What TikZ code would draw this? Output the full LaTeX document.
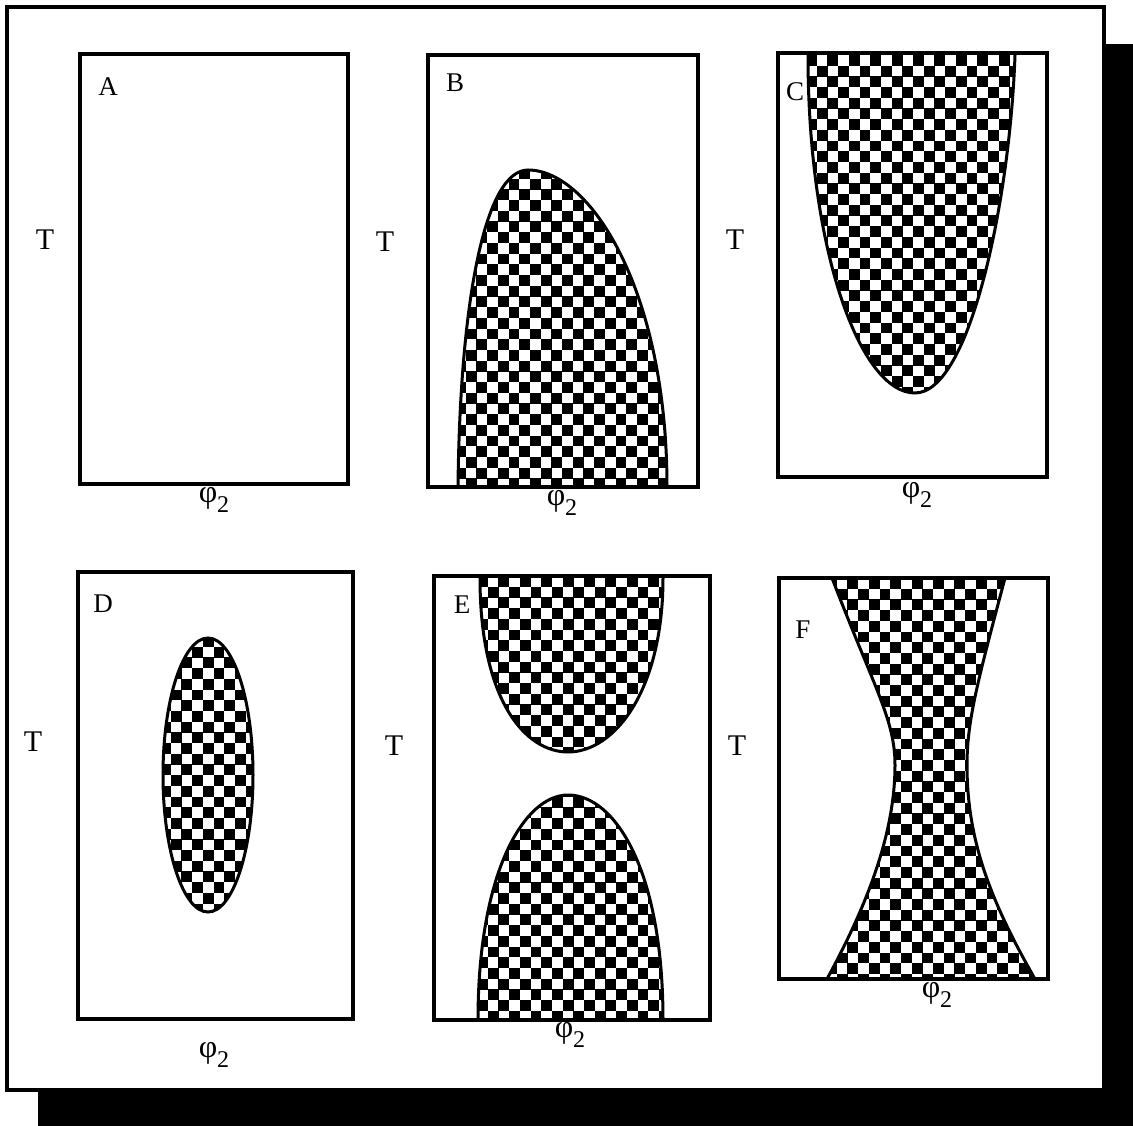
\documentclass[tikz,border=0pt]{standalone}
\usepackage{fontspec}
\setmainfont{Liberation Serif}
\newcommand{\checkfill}[4]{%
  \foreach \ci in {0,...,#3}{%
    \foreach \cj in {0,...,#4}{%
      \fill ({#1+21.4*\ci},{#2+21.4*\cj}) rectangle +(10.9,10.9);
      \fill ({#1+21.4*\ci+10.7},{#2+21.4*\cj+10.7}) rectangle +(10.9,10.9);
    }}}
\newcommand{\phitwo}{φ\raisebox{-0.32em}{\fontsize{24}{28}\selectfont 2}}
\tikzset{
  panel/.style={line width=3.4pt},
  blob/.style={line width=3pt},
  letter/.style={font=\fontsize{27}{30}\selectfont, inner sep=0pt},
  tlab/.style={font=\fontsize{30}{34}\selectfont, inner sep=0pt},
  philab/.style={font=\fontsize{32}{36}\selectfont, inner sep=0pt}
}
\begin{document}
\begin{tikzpicture}[x=1pt,y=-1pt]
\useasboundingbox (0,0) rectangle (1133,1126);
% shadow
\fill (1104,44) rectangle (1133,1126);
\fill (38,1090) rectangle (1133,1126);
% outer frame
\draw[panel,fill=white] (7,7) rectangle (1104,1090);

% ---------- Panel A
\draw[panel] (80,54) rectangle (348,484);
\node[letter] (la) at (108,87) {A};
\node[tlab] (ta) at (45,240) {T};
\node[philab] (pa) at (214,500) {\phitwo};

% ---------- Panel B
\begin{scope}
\clip (458,487) .. controls (460,300) and (485,170) .. (528,170) .. controls (590,170) and (667,290) .. (667,487) -- cycle;
\checkfill{455}{168}{11}{16}
\end{scope}
\draw[blob] (458,487) .. controls (460,300) and (485,170) .. (528,170) .. controls (590,170) and (667,290) .. (667,487);
\draw[panel] (428,55) rectangle (698,487);
\node[letter] (lb) at (455,83) {B};
\node[tlab] (tb) at (385,242) {T};
\node[philab] (pb) at (562,503) {\phitwo};

% ---------- Panel C
\begin{scope}
\clip (808,55) .. controls (808,250) and (860,393) .. (915,393) .. controls (970,393) and (1010,200) .. (1015,55) -- cycle;
\checkfill{806}{55}{10}{17}
\end{scope}
\draw[blob] (808,55) .. controls (808,250) and (860,393) .. (915,393) .. controls (970,393) and (1010,200) .. (1015,55);
\draw[panel] (778,53) rectangle (1047,477);
\node[letter] (lc) at (795,92) {C};
\node[tlab] (tc) at (735,240) {T};
\node[philab] (pc) at (917,495) {\phitwo};

% ---------- Panel D
\begin{scope}
\clip (208,775) ellipse [x radius=45, y radius=137];
\checkfill{160}{636}{5}{14}
\end{scope}
\draw[blob] (208,775) ellipse [x radius=45, y radius=137];
\draw[panel] (78,572) rectangle (353,1019);
\node[letter] (ld) at (103,604) {D};
\node[tlab] (td) at (33,742) {T};
\node[philab] (pd) at (214,1055) {\phitwo};

% ---------- Panel E
\begin{scope}
\clip (480,578) .. controls (480,700) and (525,752) .. (568,752) .. controls (615,752) and (663,690) .. (663,578) -- cycle;
\checkfill{477}{576}{9}{9}
\end{scope}
\draw[blob] (480,578) .. controls (480,700) and (525,752) .. (568,752) .. controls (615,752) and (663,690) .. (663,578);
\begin{scope}
\clip (478,1020) .. controls (478,870) and (525,795) .. (568,795) .. controls (615,795) and (663,870) .. (663,1020) -- cycle;
\checkfill{477}{786}{9}{11}
\end{scope}
\draw[blob] (478,1020) .. controls (478,870) and (525,795) .. (568,795) .. controls (615,795) and (663,870) .. (663,1020);
\draw[panel] (434,576) rectangle (710,1020);
\node[letter] (le) at (462,605) {E};
\node[tlab] (te) at (394,746) {T};
\node[philab] (pe) at (570,1035) {\phitwo};

% ---------- Panel F
\begin{scope}
\clip (832,578) .. controls (875,690) and (895,720) .. (895,765) .. controls (895,830) and (870,900) .. (827,979)
  -- (1035,979) .. controls (990,900) and (967,840) .. (967,765) .. controls (967,720) and (978,680) .. (1005,578) -- cycle;
\checkfill{826}{578}{10}{19}
\end{scope}
\draw[blob] (832,578) .. controls (875,690) and (895,720) .. (895,765) .. controls (895,830) and (870,900) .. (827,979);
\draw[blob] (1005,578) .. controls (978,680) and (967,720) .. (967,765) .. controls (967,840) and (990,900) .. (1035,979);
\draw[panel] (779,578) rectangle (1048,979);
\node[letter] (lf) at (803,630) {F};
\node[tlab] (tf) at (737,746) {T};
\node[philab] (pf) at (937,995) {\phitwo};
\end{tikzpicture}
\end{document}
